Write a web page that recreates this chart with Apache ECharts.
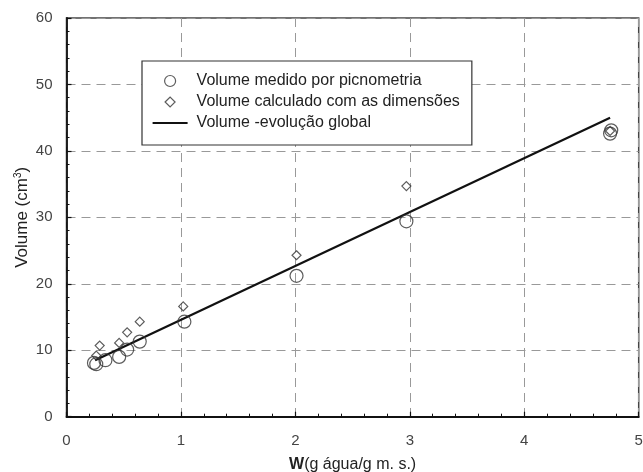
<!DOCTYPE html>
<html>
<head>
<meta charset="utf-8">
<script src="https://cdn.jsdelivr.net/npm/echarts@6/dist/echarts.min.js"></script>
<style>html,body{margin:0;padding:0;background:#fff}#c{width:643px;height:472px}</style>
</head>
<body>
<div id="c"></div>
<script>
// Volume medido por picnometria
var measuredW = [0.24, 0.26, 0.34, 0.46, 0.53, 0.64, 1.03, 2.01, 2.97, 4.75, 4.76];
var measuredV = [8.1, 7.9, 8.5, 9.0, 10.1, 11.3, 14.3, 21.2, 29.4, 42.6, 43.1];
// Volume calculado com as dimensões
var calcW = [0.26, 0.29, 0.46, 0.53, 0.64, 1.02, 2.01, 2.97, 4.75];
var calcV = [9.2, 10.7, 11.1, 12.7, 14.3, 16.6, 24.3, 34.7, 43.0];
// Volume - evolução global
var lineW = [0.25, 4.75];
var lineV = [8.5, 45.0];

var names = ['Volume medido por picnometria', 'Volume calculado com as dimensões', 'Volume -evolução global'];

function pairs(xs, ys) { return xs.map(function (x, i) { return [x, ys[i]]; }); }

var chart = echarts.init(document.getElementById('c'), null, {renderer: 'canvas'});
var font = 'Liberation Sans, Arial, sans-serif';
var iconCircle = 'path://M0,0M35,14M23,7A5.5,5.5,0,1,1,12,7A5.5,5.5,0,1,1,23,7Z';
var iconDiamond = 'path://M0,0M35,14M12.5,7L17.5,2L22.5,7L17.5,12Z';
var iconLine = 'path://M0,0M35,14M0,5.9L35,5.9L35,8.1L0,8.1Z';
chart.setOption({
  animation: false,
  backgroundColor: '#fff',
  grid: {left: 66.5, right: 4.3, top: 18, bottom: 55.3, show: true, borderColor: '#444', borderWidth: 1.5,
         backgroundColor: 'transparent', containLabel: false, outerBoundsMode: 'none'},
  xAxis: {
    type: 'value', min: 0, max: 5, interval: 1,
    axisLine: {show: true, onZero: false, lineStyle: {color: '#111', width: 1.8}},
    axisTick: {show: true, inside: true, length: 5, lineStyle: {color: '#111', width: 1.2}},
    minorTick: {show: true, splitNumber: 5, length: 3, lineStyle: {color: '#111', width: 1}},
    axisLabel: {color: '#444', fontSize: 15, fontFamily: font, margin: 17},
    splitLine: {show: true, lineStyle: {color: '#999', type: [9, 6], width: 1}},
    name: '{b|W}{n|(g água/g m. s.)}',
    nameLocation: 'middle', nameGap: 40, nameMoveOverlap: false,
    nameTextStyle: {rich: {
      b: {fontWeight: 'bold', fontSize: 16, fontFamily: font, color: '#222'},
      n: {fontSize: 16, fontFamily: font, color: '#222'}
    }}
  },
  yAxis: {
    type: 'value', min: 0, max: 60, interval: 10,
    axisLine: {show: true, onZero: false, lineStyle: {color: '#111', width: 1.8}},
    axisTick: {show: true, inside: true, length: 5, lineStyle: {color: '#111', width: 1.2}},
    minorTick: {show: true, splitNumber: 5, length: 3, lineStyle: {color: '#111', width: 1}},
    axisLabel: {color: '#444', fontSize: 15, fontFamily: font, margin: 14},
    splitLine: {show: true, lineStyle: {color: '#999', type: [9, 6], width: 1}},
    name: '{n|Volume (cm}{s|3}{n|)}',
    nameLocation: 'middle', nameGap: 35, nameRotate: 90, nameMoveOverlap: false,
    nameTextStyle: {rich: {
      n: {fontSize: 17, fontFamily: font, color: '#222'},
      s: {fontSize: 10, fontFamily: font, color: '#222', verticalAlign: 'top', padding: [0, 0, 8, 0]}
    }}
  },
  legend: {
    show: true, orient: 'vertical', left: 142, top: 61,
    padding: [12, 12, 14, 10], itemGap: 5, itemWidth: 35, itemHeight: 14,
    borderColor: '#333', borderWidth: 1.2, backgroundColor: '#fff',
    textStyle: {fontSize: 16, lineHeight: 15, fontFamily: font, color: '#222', padding: [0, 0, 0, 4]},
    data: [
      {name: names[0], icon: iconCircle, itemStyle: {color: 'transparent', borderColor: '#333', borderWidth: 1.2}},
      {name: names[1], icon: iconDiamond, itemStyle: {color: 'transparent', borderColor: '#333', borderWidth: 1.2}},
      {name: names[2], icon: iconLine, itemStyle: {color: '#111', borderWidth: 0}}
    ]
  },
  series: [
    {
      name: names[2], type: 'line', data: pairs(lineW, lineV), symbol: 'none', z: 2,
      lineStyle: {color: '#111', width: 2.2}, itemStyle: {color: '#111'}
    },
    {
      name: names[0], type: 'scatter', data: pairs(measuredW, measuredV), symbol: 'circle', symbolSize: 13, z: 3,
      itemStyle: {color: 'transparent', borderColor: '#333', borderWidth: 1.2}
    },
    {
      name: names[1], type: 'scatter', data: pairs(calcW, calcV), symbol: 'diamond', symbolSize: 9, z: 3,
      itemStyle: {color: 'transparent', borderColor: '#333', borderWidth: 1.2}
    }
  ]
});
</script>
</body>
</html>
